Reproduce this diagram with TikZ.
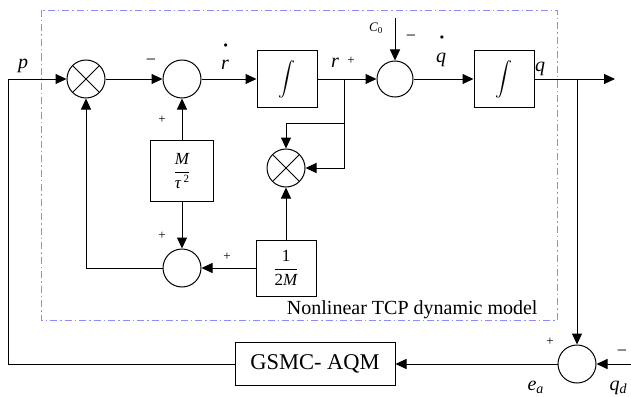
\documentclass[tikz,border=0pt]{standalone}
\usepackage{fontspec}
\setmainfont{Liberation Serif}
\usetikzlibrary{arrows.meta,positioning}
\definecolor{fblue}{HTML}{8C8CFF}

\begin{document}
\begin{tikzpicture}[x=1pt,y=-1pt,line width=1pt,
  blk/.style={draw,minimum width=60pt,minimum height=57pt,inner sep=0pt,
              font=\fontsize{17}{20}\selectfont},
  sumc/.style={circle,draw,minimum size=38pt,inner sep=0pt},
  mult/.style={sumc,path picture={\draw
      (path picture bounding box.north west)--(path picture bounding box.south east)
      (path picture bounding box.north east)--(path picture bounding box.south west);}},
  arr/.style={-{Triangle[length=11pt,width=10pt]}},
  lbl/.style={inner sep=0pt,anchor=base,font=\fontsize{20}{24}\selectfont\itshape},
  sgn/.style={inner sep=0pt,font=\fontsize{13}{13}\selectfont},
  mns/.style={inner sep=0pt,font=\fontsize{18}{18}\selectfont}]
  \useasboundingbox (0,0) rectangle (631,396);
  % model frame
  \draw[fblue,line width=0.8pt,dash pattern=on 7pt off 3pt on 1.5pt off 3pt]
    (41,10) rectangle (557,320);
  \node[anchor=base east,inner sep=0pt,font=\fontsize{20}{24}\selectfont] (cap) at (538,314)
    {Nonlinear TCP dynamic model};
  % blocks
  \node[mult] (m1) at (86,79) {};
  \node[sumc] (s1) at (182,79) {};
  \node[blk] (i1) at (287,79) {\scalebox{1.7}{$\displaystyle\int$}};
  \node[blk,minimum width=63pt,minimum height=61pt] (g1) at (182,171)
    {$\displaystyle\frac{\mbox{\itshape M}}{\mbox{\itshape τ\,\fontsize{11}{11}\selectfont\raisebox{6pt}{\upshape 2}}}$};
  \node[sumc] (s2) at (182,268) {};
  \node[blk,minimum height=56pt] (g2) at (286,268)
    {$\displaystyle\frac{\mbox{1}}{\mbox{2\itshape M}}$};
  \node[mult] (m2) at (286,168) {};
  \coordinate (br) at (344,79);
  \coordinate (bt) at (344,123);
  \node[sumc,minimum size=36pt] (s3) at (395,79) {};
  \coordinate (c0) at (395,18);
  \node[blk] (i2) at (504,79) {\scalebox{1.7}{$\displaystyle\int$}};
  \coordinate (out) at (615,79);
  \coordinate (bq) at (577,79);
  \node[sumc] (s4) at (577,364) {};
  \coordinate (qd) at (631,364);
  \node[draw,minimum width=160pt,minimum height=43pt,inner sep=0pt,
        font=\fontsize{22.5}{26}\selectfont] (ctl) at (315,364) {GSMC- AQM};
  \coordinate (pin) at (8,79);
  % connectors
  \draw[arr] (ctl.west) -| (pin) -- (m1);
  \draw[arr] (m1) -- (s1);
  \draw[arr] (s1) -- (i1);
  \draw (i1) -- (br);
  \draw[arr] (br) -- (s3);
  \draw[arr] (c0) -- (s3);
  \draw[arr] (s3) -- (i2);
  \draw[arr] (i2) -- (out);
  \draw[arr] (br) |- (m2);
  \draw[arr] (bt) -| (m2);
  \draw[arr] (g2) -- (m2);
  \draw[arr] (g2) -- (s2);
  \draw[arr] (g1) -- (s1);
  \draw[arr] (g1) -- (s2);
  \draw[arr] (s2) -| (m1);
  \draw[arr] (bq) -- (s4);
  \draw[arr] (qd) -- (s4);
  \draw[arr] (s4) -- (ctl);
  % labels
  \node[lbl] (lp) at (23,68) {p};
  \node[lbl] (lrd) at (225,70) {r\llap{\raisebox{22pt}{\footnotesize\upshape$\bullet$}\kern1pt}};
  \node[lbl] (lr) at (335,67) {r};
  \node[lbl,font=\fontsize{13}{15}\selectfont\itshape] (lc0) at (376,32) {C\textsubscript{\upshape 0}};
  \node[lbl] (lqd) at (441,63) {q\llap{\raisebox{23pt}{\footnotesize\upshape$\bullet$}\kern2pt}};
  \node[lbl] (lq) at (540,71) {q};
  \node[lbl,anchor=base west] (lea) at (527,390) {e\textsubscript{a}};
  \node[lbl,anchor=base west] (lqr) at (609,390) {q\textsubscript{d}};
  \node[mns] (n1) at (151,62) {−};
  \node[sgn] (p1) at (162,120) {+};
  \node[sgn] (p2) at (162,236) {+};
  \node[sgn] (p3) at (227,257) {+};
  \node[sgn] (p4) at (351,61) {+};
  \node[mns] (n2) at (411,38) {−};
  \node[sgn] (p5) at (550,342) {+};
  \node[mns] (n3) at (622,353) {−};
\end{tikzpicture}
\end{document}
